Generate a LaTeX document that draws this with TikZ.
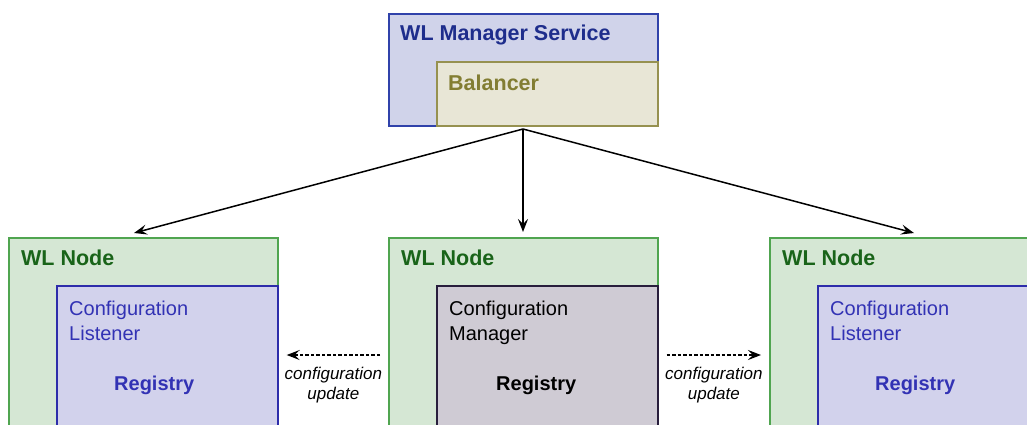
\documentclass[tikz,border=0pt]{standalone}
\usepackage{fontspec}
\setmainfont{Liberation Sans}
\usetikzlibrary{arrows.meta,positioning,calc}
\definecolor{mgrf}{RGB}{208,211,234}
\definecolor{mgrd}{RGB}{48,66,170}
\definecolor{mgrt}{RGB}{30,45,140}
\definecolor{balf}{RGB}{232,230,214}
\definecolor{bald}{RGB}{150,145,80}
\definecolor{balt}{RGB}{130,125,50}
\definecolor{wlf}{RGB}{213,231,212}
\definecolor{wld}{RGB}{80,165,80}
\definecolor{wlt}{RGB}{25,100,25}
\definecolor{lisf}{RGB}{210,210,236}
\definecolor{lisd}{RGB}{45,45,170}
\definecolor{list}{RGB}{50,50,180}
\definecolor{cmf}{RGB}{207,203,212}
\definecolor{cmd}{RGB}{40,30,60}
\tikzset{
  box/.style={draw,line width=1.7pt,anchor=north west,inner sep=0pt,minimum width=269pt},
  mgrbox/.style={box,draw=mgrd,fill=mgrf,minimum height=112pt},
  balbox/.style={box,draw=bald,fill=balf,minimum width=221pt,minimum height=64pt},
  wlbox/.style={box,draw=wld,fill=wlf,minimum height=200pt},
  lisbox/.style={box,draw=lisd,fill=lisf,minimum width=221pt,minimum height=152pt},
  cmbox/.style={lisbox,draw=cmd,fill=cmf},
  ttl/.style={anchor=base west,inner sep=0pt,font=\fontsize{21.5}{25}\selectfont\bfseries},
  txt/.style={anchor=north west,inner sep=0pt,align=left,font=\fontsize{20}{25}\selectfont},
  reg/.style={anchor=base west,inner sep=0pt,font=\fontsize{20}{25}\selectfont\bfseries},
  ar/.style={-{Stealth[length=13pt,width=10pt,inset=5pt]},line width=1.5pt},
  dar/.style={ar,dash pattern=on 3.5pt off 2pt,shorten <=8pt,shorten >=8pt},
  upd/.style={font=\fontsize{17}{20}\selectfont\itshape,align=center,inner sep=0pt},
}

\begin{document}
\begin{tikzpicture}[x=1pt,y=-1pt]
\useasboundingbox (0,0) rectangle (1027,424);
\clip (0,0) rectangle (1027,424);
% manager service
\node[mgrbox] (mgr) at (388,13) {};
\node[balbox] (bal) at (436,61) {};
\node[ttl,text=mgrt] (mgrT) at (400,40) {WL Manager Service};
\node[ttl,text=balt] (balT) at (448,90) {Balancer};
% wl nodes
\node[wlbox] (wlL) at (8,237) {};
\node[wlbox] (wlC) at (388,237) {};
\node[wlbox] (wlR) at (769,237) {};
\node[lisbox] (lisL) at (56,285) {};
\node[cmbox] (cm) at (436,285) {};
\node[lisbox] (lisR) at (817,285) {};
\foreach \n/\x in {L/21,C/401,R/782}
  \node[ttl,text=wlt] (wlT\n) at (\x,265) {WL Node};
\node[txt,text=list] (lisLT) at (69,301) {Configuration\\Listener};
\node[txt] (cmT) at (449,301) {Configuration\\Manager};
\node[txt,text=list] (lisRT) at (830,301) {Configuration\\Listener};
\node[reg,text=list] (regL) at (114,390) {Registry};
\node[reg] (regC) at (496,390) {Registry};
\node[reg,text=list] (regR) at (875,390) {Registry};
% balancing arrows
\coordinate (fork) at (523,129);
\coordinate (tipL) at (134,233);
\coordinate (tipR) at (914,233);
\draw[ar] (fork) -- (tipL);
\draw[ar,shorten >=5pt] (fork) -- (wlC.north -| fork);
\draw[ar] (fork) -- (tipR);
% configuration updates
\draw[dar] (wlC.west |- 0,355) -- node[upd,below=11pt] (updL) {configuration\\update} (lisL.east |- 0,355);
\draw[dar] (cm.east |- 0,355) -- node[upd,below=11pt] (updR) {configuration\\update} (wlR.west |- 0,355);
\end{tikzpicture}
\end{document}
